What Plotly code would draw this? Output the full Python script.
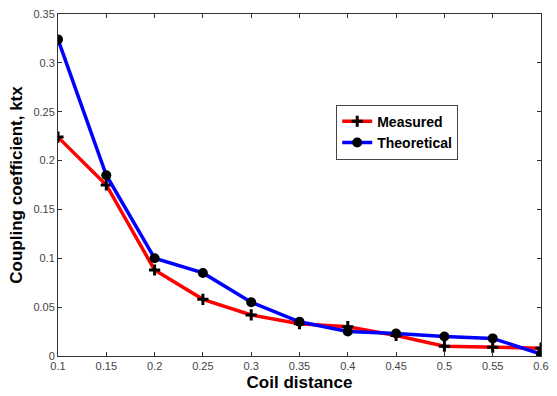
import plotly.graph_objects as go

distance = [0.1, 0.15, 0.2, 0.25, 0.3, 0.35, 0.4, 0.45, 0.5, 0.55, 0.6]
measured = [0.224, 0.175, 0.088, 0.058, 0.042, 0.033, 0.030, 0.021, 0.010, 0.009, 0.008]
theoretical = [0.324, 0.185, 0.100, 0.085, 0.055, 0.035, 0.025, 0.023, 0.020, 0.018, 0.002]
x_ticks = [0.1, 0.15, 0.2, 0.25, 0.3, 0.35, 0.4, 0.45, 0.5, 0.55, 0.6]
y_ticks = [0, 0.05, 0.1, 0.15, 0.2, 0.25, 0.3, 0.35]

fig = go.Figure()
fig.add_trace(go.Scatter(
    x=distance, y=measured, name="<b>Measured</b>", mode="lines+markers",
    line=dict(color="#ff0000", width=3.5),
    marker=dict(symbol="cross-thin", size=8, color="black",
                line=dict(color="black", width=3)),
))
fig.add_trace(go.Scatter(
    x=distance, y=theoretical, name="<b>Theoretical</b>", mode="lines+markers",
    line=dict(color="#0000ff", width=3.5),
    marker=dict(symbol="circle", size=10, color="black"),
))

axis_common = dict(
    showgrid=False, zeroline=False, showline=True, linecolor="#333",
    linewidth=1, mirror="ticks", ticks="inside", ticklen=4, tickcolor="#333",
    tickfont=dict(family="Liberation Sans, Arial", size=11, color="#444"),
)
fig.update_layout(
    width=557, height=396,
    margin=dict(l=58, r=8, t=13, b=39),
    paper_bgcolor="white", plot_bgcolor="white",
    xaxis=dict(range=[0.1, 0.6], tickvals=x_ticks,
               ticktext=[f"{v:g}" for v in x_ticks],
               title=dict(text="<b>Coil distance</b>", standoff=4,
                          font=dict(family="Liberation Sans, Arial", size=17, color="black")),
               **axis_common),
    yaxis=dict(range=[0, 0.35], tickvals=y_ticks,
               ticktext=[f"{v:g}" for v in y_ticks],
               title=dict(text="<b>Coupling coefficient, ktx</b>", standoff=6,
                          font=dict(family="Liberation Sans, Arial", size=17, color="black")),
               **axis_common),
    legend=dict(x=0.576, y=0.735, xanchor="left", yanchor="top",
                bordercolor="#444", borderwidth=1, bgcolor="white",
                font=dict(family="Liberation Sans, Arial", size=14, color="black"),
                tracegroupgap=0, itemwidth=30),
    showlegend=True,
)
fig.write_html("out.html")
